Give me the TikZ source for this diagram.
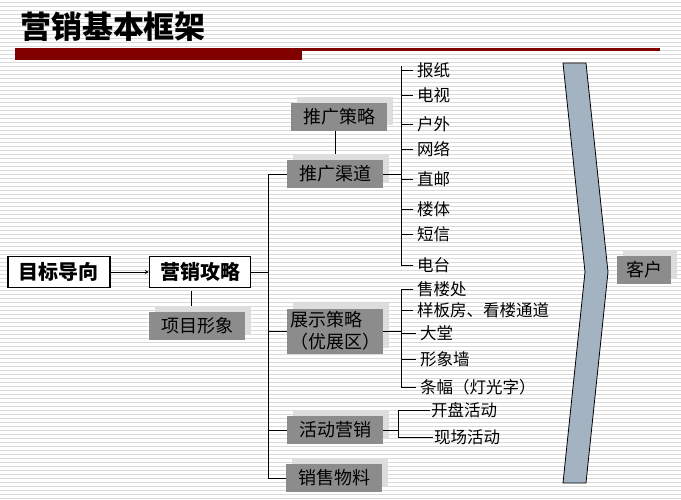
\documentclass[tikz,border=0pt]{standalone}
\usepackage{fontspec}
\setmainfont{Noto Sans CJK SC}
\usepackage{tikz}
\usetikzlibrary{shadows}
\definecolor{barred}{HTML}{800000}
\definecolor{boxgray}{HTML}{8C8C8C}
\definecolor{shadegray}{HTML}{DDDDDD}
\definecolor{stripegray}{HTML}{D9D9D9}
\definecolor{chevron}{HTML}{A4B3C2}

\tikzset{
  mainbox/.style={draw, line width=1.2pt, fill=white, minimum width=101pt, minimum height=31pt, inner sep=2pt, font=\bfseries\fontsize{20}{20}\selectfont},
  graybox/.style={fill=boxgray, minimum width=96pt, minimum height=28pt, inner sep=2pt, font=\fontsize{18}{22}\selectfont,
    general shadow={fill=shadegray, shadow xshift=6pt, shadow yshift=6pt}},
  leaf/.style={anchor=west, inner sep=4pt, font=\fontsize{16.5}{18}\selectfont},
  link/.style={line width=0.8pt},
}

\begin{document}
\begin{tikzpicture}[x=1pt, y=-1pt]
\useasboundingbox (0,0) rectangle (681,499);
\fill[white] (0,0) rectangle (681,499);
\foreach \y in {2,6,...,498}
  \draw[stripegray, line width=1pt] (0,\y) -- (681,\y);

% title and bar
\node[font=\bfseries\fontsize{31}{31}\selectfont] (title) at (113,27) {营销基本框架};
\fill[barred] (15,48) rectangle (302,60);
\fill[barred] (302,48) rectangle (660,51);

% left part
\node[mainbox, minimum width=102pt] (mubiao) at (59,272) {目标导向};
\node[mainbox] (gonglue) at (200,272) {营销攻略};
\node[graybox] (xingxiang) at (197,326) {项目形象};
\draw [->,>=stealth,link] (mubiao) -- (gonglue);
\coordinate (xtop) at ([xshift=-6pt,yshift=6pt] xingxiang.north);
\draw [link, shorten >=3pt] (xtop) -- (xtop |- gonglue.south);

% strategy boxes
\node[graybox] (celve) at (339,117) {推广策略};
\node[graybox] (qudao) at (335,174) {推广渠道};
\node[graybox, minimum height=45pt, align=left] (zhanshi) at (335,331) {展示策略\\ （优展区）};
\node[graybox] (huodong) at (335,430) {活动营销};
\node[graybox] (wuliao) at (334,478) {销售物料};
\draw [link] (celve.south -| qudao.north) -- ([yshift=6pt] qudao.north);

% trunk
\coordinate (trunk) at (268,0);
\draw [link] (gonglue.east) -- (gonglue.east -| trunk);
\draw [link] (trunk |- qudao.west) -- (trunk |- wuliao.west);
\foreach \b in {qudao,zhanshi,huodong,wuliao}
  \draw [link] (\b.west -| trunk) -- (\b.west);

% media channels
\coordinate (busA) at (401,66);
\foreach \name/\y/\txt in {baozhi/70/报纸, dianshi/95/电视, huwai/124/户外, wangluo/149/网络,
    zhiyou/179/直邮, louti/209/楼体, duanxin/234/短信, diantai/265/电台} {
  \node[leaf] (\name) at (413,\y) {\txt};
  \draw [link] (\name.west -| busA) -- (\name.west);
}
\draw [link] (busA) -- (busA |- diantai.west);
\draw [link] (qudao.east) -- (qudao.east -| busA);

% display sites
\coordinate (busB) at (401,289);
\foreach \name/\x/\y/\txt in {shoulou/413/289/售楼处, yangban/413/310/样板房、看楼通道, datang/416/333/大堂,
    xingxqiang/416/359/形象墙, tiaofu/416/387/条幅（灯光字）} {
  \node[leaf] (\name) at (\x,\y) {\txt};
  \draw [link] (\name.west -| busB) -- (\name.west);
}
\draw [link] (busB) -- (busB |- tiaofu.west);
\draw [link] (zhanshi.east) -- (zhanshi.east -| busB);

% events
\coordinate (busC) at (398,0);
\node[leaf, inner sep=1pt] (kaipan) at (430,410) {开盘活动};
\node[leaf, inner sep=1pt] (xianchang) at (433,437) {现场活动};
\draw [link] (kaipan.west -| busC) -- (kaipan.west);
\draw [link] (xianchang.west -| busC) -- (xianchang.west);
\draw [link] (busC |- kaipan.west) -- (busC |- xianchang.west);
\draw [link] (huodong.east) -- (huodong.east -| busC);

% customer
\draw [fill=chevron, link] (563,63) -- (586,63) -- (608,272) -- (586,483) -- (563,483) -- (585,272) -- cycle;
\node[graybox, minimum width=54pt] (kehu) at (644,270) {客户};
\end{tikzpicture}
\end{document}
